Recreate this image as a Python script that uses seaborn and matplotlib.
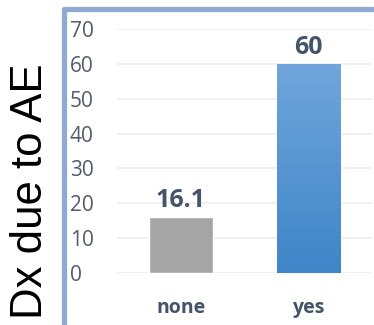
import numpy as np
import pandas as pd
import matplotlib
matplotlib.use("Agg")
import matplotlib.pyplot as plt
from matplotlib.lines import Line2D
from matplotlib.colors import LinearSegmentedColormap
import seaborn as sns

categories = ["none", "yes"]
values = [16.1, 60]
value_labels = ["16.1", "60"]
y_ticks = [0, 10, 20, 30, 40, 50, 60, 70]
y_label = "Dx due to AE"

sns.set_theme(style="white")
plt.rcParams["font.family"] = ["Open Sans", "DejaVu Sans"]

W, H = 374, 325
fig = plt.figure(figsize=(W / 100, H / 100), dpi=100)
ax = fig.add_axes([117 / W, (H - 273) / H, 255.5 / W, 244 / H])

df = pd.DataFrame({"cat": categories, "val": values})
sns.barplot(data=df, x="cat", y="val", hue="cat",
            palette=["#A5A5A5", "#4F93D3"], width=0.5,
            legend=False, ax=ax, saturation=1, zorder=3)

ax.set_xlim(-0.5, 1.5)
ax.set_ylim(0, 70)
ax.set_yticks(y_ticks)
ax.set_yticklabels([str(t) for t in y_ticks])
ax.yaxis.grid(True, color="#EEEEEE", lw=1.2, zorder=0)
ax.xaxis.grid(False)
for s in ax.spines.values():
    s.set_visible(False)
ax.tick_params(axis="y", length=0, pad=34, labelsize=15, labelcolor="#535B6B")
for lbl in ax.get_yticklabels():
    lbl.set_horizontalalignment("left")
ax.tick_params(axis="x", length=0, pad=18, labelsize=14, labelcolor="#44546A")
for lbl in ax.get_xticklabels():
    lbl.set_fontweight("bold")
ax.set_xlabel("")

# gradient on the "yes" bar
patches = ax.patches
p = patches[1]
x0, y0 = p.get_x(), p.get_y()
w, h = p.get_width(), p.get_height()
grad = np.linspace(0, 1, 256).reshape(-1, 1)
cmap = LinearSegmentedColormap.from_list("g", ["#3F85C8", "#70A6DB"])
im = ax.imshow(grad, extent=[x0, x0 + w, y0, y0 + h], origin="lower",
               cmap=cmap, aspect="auto", zorder=4)
im.set_clip_path(p)
ax.set_xlim(-0.5, 1.5)
ax.set_ylim(0, 70)

for bar, txt in zip(patches, value_labels):
    ax.annotate(txt, (bar.get_x() + bar.get_width() / 2, bar.get_height()),
                xytext=(0, 3), textcoords="offset points", ha="center",
                va="bottom", fontsize=18, fontweight="bold", color="#44546A",
                zorder=5)

ax.set_ylabel(y_label, fontsize=31.5, color="black",
              fontfamily=["Liberation Sans", "DejaVu Sans"])
ax.yaxis.set_label_coords((30 - 117) / 255.5, (273 - 191.5) / 244)
ax.yaxis.label.set_va("center")

# frame border
fig.add_artist(Line2D([63.5 / W, 63.5 / W, 1.05], [-0.05, 1 - 8.5 / H, 1 - 8.5 / H],
                      transform=fig.transFigure, color="#8FA9D3", lw=3.8,
                      solid_joinstyle="round"))

fig.savefig("out.png", dpi=100)
